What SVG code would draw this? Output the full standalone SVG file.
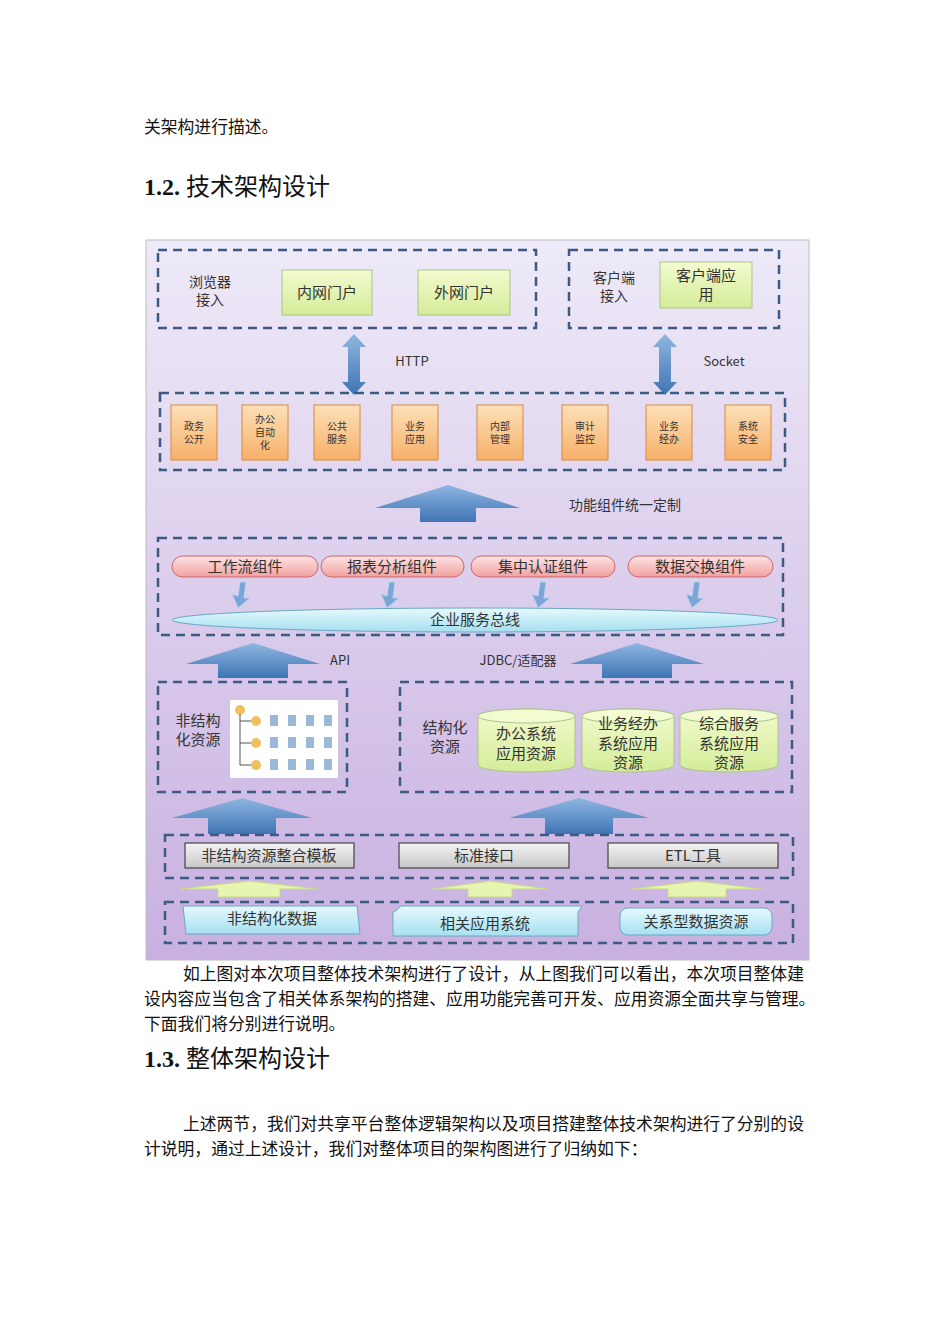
<svg xmlns="http://www.w3.org/2000/svg" width="950" height="1344" viewBox="0 0 950 1344">
<style>
.t{font-family:"Liberation Serif","Noto Sans CJK SC",serif;font-size:16.8px;fill:#111}
.h{font-family:"Liberation Serif","Noto Sans CJK SC",serif;font-size:24px;font-weight:bold;fill:#111}
.hn{font-family:"Noto Sans CJK SC",sans-serif;font-weight:normal}
.d{fill:none;stroke:#3d5a85;stroke-width:2.5;stroke-dasharray:9,6}
.s{font-family:"Noto Sans CJK SC",sans-serif;fill:#333;text-anchor:middle}
.g{fill:url(#gg);stroke:#a9c48a}
.o{fill:url(#og);stroke:#d98a3a}
.p{fill:url(#pg);stroke:#c66}
.gr{fill:url(#grg);stroke:#444;stroke-width:1.2}
.c{fill:url(#cg);stroke:#6aa9c4}
.ba{fill:url(#bg)}
.la{fill:#e6f5b0;stroke:#c8d88a}
</style>
<defs>
<linearGradient id="bgd" x1="0" y1="0" x2="0" y2="1"><stop offset="0" stop-color="#eeeaf8"/><stop offset="1" stop-color="#c8b0e0"/></linearGradient>
<linearGradient id="gg" x1="0" y1="0" x2="0" y2="1"><stop offset="0" stop-color="#f3fbd0"/><stop offset="1" stop-color="#d4ec98"/></linearGradient>
<linearGradient id="og" x1="0" y1="0" x2="0" y2="1"><stop offset="0" stop-color="#fde0b8"/><stop offset="1" stop-color="#f6b069"/></linearGradient>
<linearGradient id="pg" x1="0" y1="0" x2="0" y2="1"><stop offset="0" stop-color="#fde4e4"/><stop offset="1" stop-color="#f2a0a0"/></linearGradient>
<linearGradient id="grg" x1="0" y1="0" x2="0" y2="1"><stop offset="0" stop-color="#f4f4f4"/><stop offset="1" stop-color="#c8c8c8"/></linearGradient>
<linearGradient id="cg" x1="0" y1="0" x2="0" y2="1"><stop offset="0" stop-color="#e6f9fd"/><stop offset="1" stop-color="#a6e0f0"/></linearGradient>
<linearGradient id="bg" x1="0" y1="0" x2="0" y2="1"><stop offset="0" stop-color="#8fb6e0"/><stop offset="1" stop-color="#3f74b4"/></linearGradient>
</defs>
<rect width="950" height="1344" fill="#fff"/>
<text class="t" x="144" y="133">关架构进行描述。</text>
<text class="h" x="144" y="195">1.2. <tspan class="hn">技术架构设计</tspan></text>
<rect x="146" y="240" width="663" height="720" fill="url(#bgd)" stroke="#bbb"/>
<g id="top">
<rect class="d" x="158" y="250" width="378" height="78"/>
<text class="s" font-size="14" x="210" y="287">浏览器</text><text class="s" font-size="14" x="210" y="305">接入</text>
<g id="n-nei"><rect class="g" x="282" y="270" width="90" height="45"/><text class="s" font-size="15" x="327" y="298">内网门户</text></g>
<g id="n-wai"><rect class="g" x="418" y="270" width="92" height="45"/><text class="s" font-size="15" x="464" y="298">外网门户</text></g>
<rect class="d" x="569" y="250" width="210" height="78"/>
<text class="s" font-size="14" x="614" y="283">客户端</text><text class="s" font-size="14" x="614" y="301">接入</text>
<g id="n-kh"><rect class="g" x="660" y="262" width="92" height="46"/><text class="s" font-size="15" x="706" y="281">客户端应</text><text class="s" font-size="15" x="706" y="300">用</text></g>
</g>
<g id="connectors">
<path class="ba" d="M354 334 L366 347 L360 347 L360 382 L366 382 L354 395 L342 382 L348 382 L348 347 L342 347Z"/>
<path class="ba" d="M665 334 L677 347 L671 347 L671 382 L677 382 L665 395 L653 382 L659 382 L659 347 L653 347Z"/>
<path class="ba" d="M448 485 L520 508 L476 508 L476 522 L420 522 L420 508 L375 508Z"/>
<path class="ba" d="M253 643 L320 664 L288 664 L288 678 L218 678 L218 664 L186 664Z"/>
<path class="ba" d="M637 643 L704 664 L672 664 L672 678 L602 678 L602 664 L570 664Z"/>
<path class="ba" d="M242 798 L312 818 L276 818 L276 834 L208 834 L208 818 L172 818Z"/>
<path class="ba" d="M579 798 L649 818 L613 818 L613 834 L545 834 L545 818 L509 818Z"/>
<path class="la" d="M249 881 L318 889 L280 889 L280 897 L218 897 L218 889 L180 889Z"/>
<path class="la" d="M490 881 L548 889 L512 889 L512 897 L468 897 L468 889 L432 889Z"/>
<path class="la" d="M697 881 L762 889 L726 889 L726 897 L668 897 L668 889 L632 889Z"/>
<g fill="#7aa5d6" stroke="#bcd3ee">
<path d="M240 582 L246 582 L244 598 L250 598 L238 608 L232 594 L238 596Z"/>
<path d="M389 582 L395 582 L393 598 L399 598 L387 608 L381 594 L387 596Z"/>
<path d="M540 582 L546 582 L544 598 L550 598 L538 608 L532 594 L538 596Z"/>
<path d="M694 582 L700 582 L698 598 L704 598 L692 608 L686 594 L692 596Z"/>
</g>
</g>
<text class="s" font-size="13" x="412" y="366">HTTP</text>
<text class="s" font-size="13" x="724" y="366">Socket</text>
<g id="func">
<rect class="d" x="160" y="393" width="625" height="77"/>
<g font-size="10">
<rect class="o" x="171" y="405" width="46" height="55"/><text class="s" x="194" y="430">政务</text><text class="s" x="194" y="443">公开</text>
<rect class="o" x="242" y="405" width="46" height="55"/><text class="s" x="265" y="423">办公</text><text class="s" x="265" y="436">自动</text><text class="s" x="265" y="449">化</text>
<rect class="o" x="314" y="405" width="46" height="55"/><text class="s" x="337" y="430">公共</text><text class="s" x="337" y="443">服务</text>
<rect class="o" x="392" y="405" width="46" height="55"/><text class="s" x="415" y="430">业务</text><text class="s" x="415" y="443">应用</text>
<rect class="o" x="477" y="405" width="46" height="55"/><text class="s" x="500" y="430">内部</text><text class="s" x="500" y="443">管理</text>
<rect class="o" x="562" y="405" width="46" height="55"/><text class="s" x="585" y="430">审计</text><text class="s" x="585" y="443">监控</text>
<rect class="o" x="646" y="405" width="46" height="55"/><text class="s" x="669" y="430">业务</text><text class="s" x="669" y="443">经办</text>
<rect class="o" x="725" y="405" width="46" height="55"/><text class="s" x="748" y="430">系统</text><text class="s" x="748" y="443">安全</text>
</g>
</g>
<text class="s" font-size="14" x="625" y="510">功能组件统一定制</text>
<g id="comp">
<rect class="d" x="158" y="538" width="625" height="97"/>
<g font-size="15">
<rect class="p" x="172" y="556" width="146" height="21" rx="10.5"/><text class="s" x="245" y="572">工作流组件</text>
<rect class="p" x="321" y="556" width="143" height="21" rx="10.5"/><text class="s" x="392" y="572">报表分析组件</text>
<rect class="p" x="471" y="556" width="144" height="21" rx="10.5"/><text class="s" x="543" y="572">集中认证组件</text>
<rect class="p" x="628" y="556" width="145" height="21" rx="10.5"/><text class="s" x="700" y="572">数据交换组件</text>
<ellipse class="c" cx="475" cy="620" rx="303" ry="12"/><text class="s" x="475" y="625">企业服务总线</text>
</g>
</g>
<text class="s" font-size="13" x="340" y="665">API</text>
<text class="s" font-size="13" x="518" y="665">JDBC/适配器</text>
<g id="unstruct">
<rect class="d" x="158" y="682" width="189" height="110"/>
<text class="s" font-size="15" x="198" y="726">非结构</text><text class="s" font-size="15" x="198" y="745">化资源</text>
<rect x="230" y="700" width="108" height="78" fill="#fff"/>
<g fill="#f0c060"><circle cx="240" cy="710" r="5"/><circle cx="256" cy="721" r="5"/><circle cx="256" cy="743" r="5"/><circle cx="256" cy="765" r="5"/></g>
<path d="M240 714 V765 M240 721 H251 M240 743 H251 M240 765 H251" stroke="#555" fill="none"/>
<g fill="#9ab8d8"><rect x="270" y="715" width="8" height="11"/><rect x="288" y="715" width="8" height="11"/><rect x="306" y="715" width="8" height="11"/><rect x="324" y="715" width="8" height="11"/>
<rect x="270" y="737" width="8" height="11"/><rect x="288" y="737" width="8" height="11"/><rect x="306" y="737" width="8" height="11"/><rect x="324" y="737" width="8" height="11"/>
<rect x="270" y="759" width="8" height="11"/><rect x="288" y="759" width="8" height="11"/><rect x="306" y="759" width="8" height="11"/><rect x="324" y="759" width="8" height="11"/></g>
</g>
<g id="struct">
<rect class="d" x="400" y="682" width="392" height="110"/>
<text class="s" font-size="15" x="445" y="733">结构化</text><text class="s" font-size="15" x="445" y="752">资源</text>
<g font-size="15">
<path class="g" d="M478 716 V765 A48.5 7 0 0 0 575 765 V716 A48.5 7 0 0 0 478 716Z"/><ellipse cx="526.5" cy="716" rx="48.5" ry="7" fill="#f3fbd0" stroke="#a9c48a"/>
<text class="s" x="526" y="739">办公系统</text><text class="s" x="526" y="759">应用资源</text>
<path class="g" d="M582 716 V765 A46 7 0 0 0 674 765 V716 A46 7 0 0 0 582 716Z"/><ellipse cx="628" cy="716" rx="46" ry="7" fill="#f3fbd0" stroke="#a9c48a"/>
<text class="s" x="628" y="729">业务经办</text><text class="s" x="628" y="749">系统应用</text><text class="s" x="628" y="768">资源</text>
<path class="g" d="M680 716 V765 A49 7 0 0 0 778 765 V716 A49 7 0 0 0 680 716Z"/><ellipse cx="729" cy="716" rx="49" ry="7" fill="#f3fbd0" stroke="#a9c48a"/>
<text class="s" x="729" y="729">综合服务</text><text class="s" x="729" y="749">系统应用</text><text class="s" x="729" y="768">资源</text>
</g>
</g>
<g id="tools" font-size="15">
<rect class="d" x="165" y="835" width="628" height="43"/>
<rect class="gr" x="185" y="843" width="169" height="25"/><text class="s" x="269" y="861">非结构资源整合模板</text>
<rect class="gr" x="399" y="843" width="170" height="25"/><text class="s" x="484" y="861">标准接口</text>
<rect class="gr" x="608" y="843" width="170" height="25"/><text class="s" x="693" y="861">ETL工具</text>
</g>
<g id="sources" font-size="15">
<rect class="d" x="165" y="902" width="628" height="41"/>
<path class="c" d="M183 906 H357 L360 934 H186Z"/><text class="s" x="272" y="924">非结构化数据</text>
<path class="c" d="M397 910 L401 906 H582 L578 912 V936 H393 V912Z"/><text class="s" x="485" y="929">相关应用系统</text>
<rect class="c" x="620" y="908" width="152" height="27" rx="8"/><text class="s" x="696" y="927">关系型数据资源</text>
</g>
<text class="t" x="183" y="980">如上图对本次项目整体技术架构进行了设计，从上图我们可以看出，本次项目整体建</text>
<text class="t" x="144" y="1005">设内容应当包含了相关体系架构的搭建、应用功能完善可开发、应用资源全面共享与管理。</text>
<text class="t" x="144" y="1030">下面我们将分别进行说明。</text>
<text class="h" x="144" y="1067">1.3. <tspan class="hn">整体架构设计</tspan></text>
<text class="t" x="183" y="1130">上述两节，我们对共享平台整体逻辑架构以及项目搭建整体技术架构进行了分别的设</text>
<text class="t" x="144" y="1155">计说明，通过上述设计，我们对整体项目的架构图进行了归纳如下：</text>
</svg>
